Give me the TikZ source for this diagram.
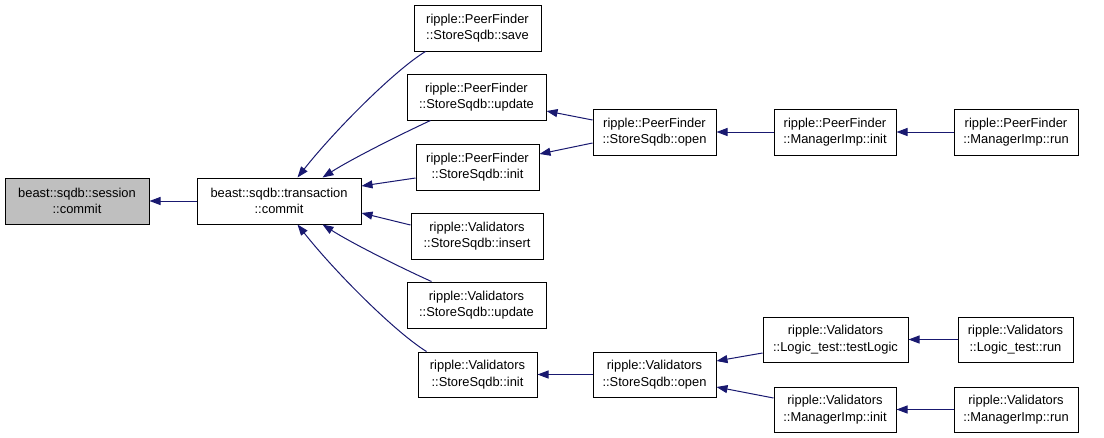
\documentclass[tikz,border=0pt]{standalone}
\usepackage{fontspec}
\setmainfont{Liberation Sans}
\usetikzlibrary{arrows.meta}
\definecolor{edgeblue}{HTML}{191970}
\tikzset{
  box/.style={draw=black, line width=1pt, fill=white, inner sep=0pt, align=center,
    font=\fontsize{12.9pt}{16.5pt}\selectfont},
  hl/.style={box, fill=black!25},
  edge/.style={draw=edgeblue, line width=1pt, -{Triangle[length=11pt,width=8pt]}},
}
\begin{document}
\begin{tikzpicture}[x=1pt,y=-1pt]
\useasboundingbox (0,0) rectangle (1104,437);
% nodes
\node[hl, minimum width=144pt, minimum height=46pt] (sc) at (77,201) {beast::sqdb::session\\::commit};
\node[box, minimum width=164pt, minimum height=46pt] (tc) at (279,201) {beast::sqdb::transaction\\::commit};
\node[box, minimum width=127pt, minimum height=46pt] (pfsave) at (477.5,28) {ripple::PeerFinder\\::StoreSqdb::save};
\node[box, minimum width=139pt, minimum height=46pt] (pfupd) at (476.5,97) {ripple::PeerFinder\\::StoreSqdb::update};
\node[box, minimum width=123pt, minimum height=46pt] (pfinit) at (477.5,167) {ripple::PeerFinder\\::StoreSqdb::init};
\node[box, minimum width=132pt, minimum height=46pt] (vins) at (477,236) {ripple::Validators\\::StoreSqdb::insert};
\node[box, minimum width=139pt, minimum height=46pt] (vupd) at (476.5,305) {ripple::Validators\\::StoreSqdb::update};
\node[box, minimum width=119pt, minimum height=45pt] (vinit) at (477.5,374.5) {ripple::Validators\\::StoreSqdb::init};
\node[box, minimum width=123pt, minimum height=46pt] (pfopen) at (654.5,132) {ripple::PeerFinder\\::StoreSqdb::open};
\node[box, minimum width=122pt, minimum height=46pt] (pfmi) at (835,132) {ripple::PeerFinder\\::ManagerImp::init};
\node[box, minimum width=124pt, minimum height=46pt] (pfmr) at (1016,132) {ripple::PeerFinder\\::ManagerImp::run};
\node[box, minimum width=123pt, minimum height=45pt] (vopen) at (654.5,374.5) {ripple::Validators\\::StoreSqdb::open};
\node[box, minimum width=145pt, minimum height=45pt] (tl) at (835.5,339.5) {ripple::Validators\\::Logic\_test::testLogic};
\node[box, minimum width=115pt, minimum height=45pt] (tlr) at (1015.5,339.5) {ripple::Validators\\::Logic\_test::run};
\node[box, minimum width=122pt, minimum height=45pt] (vmi) at (835,409.5) {ripple::Validators\\::ManagerImp::init};
\node[box, minimum width=124pt, minimum height=45pt] (vmr) at (1016,409.5) {ripple::Validators\\::ManagerImp::run};
% edges
\draw[edge] (tc.west) -- (sc.east);
\draw[edge] ([xshift=12pt]pfsave.south west) .. controls (395,70) and (335,130) .. ([xshift=101pt]tc.north west);
\draw[edge] ([xshift=24pt]pfupd.south west) .. controls (395,137) and (350,160) .. ([xshift=126pt]tc.north west);
\draw[edge] ([yshift=-11pt]pfinit.west) -- ([yshift=15pt]tc.east);
\draw[edge] ([yshift=11pt]vins.west) -- ([yshift=-12pt]tc.east);
\draw[edge] ([xshift=25pt]vupd.north west) .. controls (395,265) and (350,242) .. ([xshift=126pt]tc.south west);
\draw[edge] ([xshift=9pt]vinit.north west) .. controls (395,332) and (335,272) .. ([xshift=101pt]tc.south west);
\draw[edge] ([yshift=12pt]pfopen.west) -- ([yshift=-14pt]pfupd.east);
\draw[edge] ([yshift=-11pt]pfopen.west) -- ([yshift=13pt]pfinit.east);
\draw[edge] (pfmi.west) -- (pfopen.east);
\draw[edge] (pfmr.west) -- (pfmi.east);
\draw[edge] (vopen.west) -- (vinit.east);
\draw[edge] ([yshift=-13.5pt]tl.west) -- ([yshift=13.5pt]vopen.east);
\draw[edge] ([yshift=11.5pt]vmi.west) -- ([yshift=-12.5pt]vopen.east);
\draw[edge] (tlr.west) -- (tl.east);
\draw[edge] (vmr.west) -- (vmi.east);
\end{tikzpicture}
\end{document}
